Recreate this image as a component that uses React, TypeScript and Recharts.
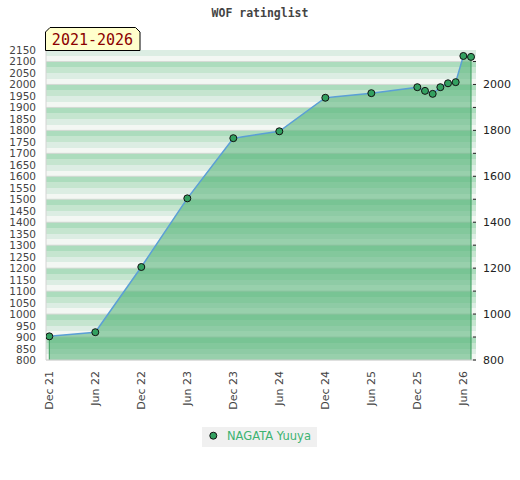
import React from "react";
import {
  ComposedChart,
  Area,
  Line,
  XAxis,
  YAxis,
  CartesianGrid,
  ReferenceLine,
} from "recharts";

// ---- data ----
const playerName = "NAGATA Yuuya";
const chartTitle = "WOF ratinglist";
const periodLabel = "2021-2026";

const dates = [
  "2021-12", "2022-06", "2022-12", "2023-06", "2023-12", "2024-06", "2024-12",
  "2025-06", "2025-12", "2026-01", "2026-02", "2026-03", "2026-04", "2026-05",
  "2026-06", "2026-07",
];
const ratings = [
  903, 921, 1205, 1504, 1766, 1796, 1942, 1962, 1988, 1972, 1959, 1988, 2005,
  2010, 2124, 2120,
];

const xTickMonths = [0, 6, 12, 18, 24, 30, 36, 42, 48, 54];
const xTickLabels = [
  "Dec 21", "Jun 22", "Dec 22", "Jun 23", "Dec 23", "Jun 24", "Dec 24",
  "Jun 25", "Dec 25", "Jun 26",
];
const leftTicks = Array.from({ length: 28 }, (_, i) => 800 + i * 50);
const rightTicks = Array.from({ length: 14 }, (_, i) => 800 + i * 100);
const stripeValues = Array.from({ length: 55 }, (_, i) => 2150 - i * 25);
const hundredLines = Array.from({ length: 14 }, (_, i) => 800 + i * 100);

const Y_DOMAIN: [number, number] = [800, 2150];
const X_DOMAIN: [number, number] = [-0.43, 55.65];

const toMonth = (d: string) => {
  const [y, m] = d.split("-").map(Number);
  return (y - 2021) * 12 + (m - 12);
};

const data = dates.map((d, i) => ({ m: toMonth(d), rating: ratings[i] }));
const first = data[0];
const last = data[data.length - 1];

const FONT = "'DejaVu Sans', sans-serif";

const XTick = (props: any) => {
  const { x, y, payload } = props;
  const idx = xTickMonths.indexOf(payload.value);
  const label = idx >= 0 ? xTickLabels[idx] : "";
  return (
    <text
      x={x}
      y={y}
      dy={4}
      transform={`rotate(-90, ${x}, ${y})`}
      textAnchor="end"
      fontSize={11}
      fontFamily={FONT}
      fill="#444"
    >
      {label}
    </text>
  );
};

const LeftTick = (props: any) => {
  const { x, y, payload } = props;
  return (
    <text
      x={x}
      y={y}
      dy={4}
      textAnchor="end"
      fontSize={10.5}
      fontFamily={FONT}
      fill="#444"
    >
      {payload.value}
    </text>
  );
};

const RightTick = (props: any) => {
  const { x, y, payload } = props;
  const v = payload.value;
  return (
    <g>
      <line x1={x - 3} x2={x} y1={y} y2={y} stroke="#222" strokeWidth={1} />
      {v % 200 === 0 ? (
        <text
          x={x + 7}
          y={y}
          dy={4}
          textAnchor="start"
          fontSize={11}
          fontFamily={FONT}
          fill="#222"
        >
          {v}
        </text>
      ) : null}
    </g>
  );
};

export default function App() {
  return (
    <div style={{ position: "absolute", left: 0, top: 0, width: 520, height: 480 }}>
      <ComposedChart
        width={520}
        height={480}
        data={data}
        margin={{ top: 50, right: 0, bottom: 0, left: 0 }}
      >
        <CartesianGrid
          yAxisId="left"
          horizontalValues={stripeValues}
          vertical={false}
          stroke="none"
          horizontalFill={["#dcede3", "#f3f7f3", "#acdcbd", "#c5e5cf"]}
        />
        <CartesianGrid
          yAxisId="left"
          horizontalValues={hundredLines}
          vertical={false}
          stroke="#d6dad6"
          fill="none"
        />
        <XAxis
          dataKey="m"
          type="number"
          domain={X_DOMAIN}
          ticks={xTickMonths}
          interval={0}
          height={120}
          tickSize={0}
          tickMargin={11}
          tick={<XTick />}
          axisLine={{ stroke: "#d4d4d4" }}
          allowDataOverflow
        />
        <YAxis
          yAxisId="left"
          orientation="left"
          domain={Y_DOMAIN}
          ticks={leftTicks}
          interval={0}
          width={46}
          tickSize={0}
          tickMargin={10}
          tickLine={false}
          axisLine={{ stroke: "#d4d4d4" }}
          tick={<LeftTick />}
          allowDataOverflow
        />
        <YAxis
          yAxisId="right"
          orientation="right"
          domain={Y_DOMAIN}
          ticks={rightTicks}
          interval={0}
          width={44}
          tickSize={0}
          tickMargin={0}
          tickLine={false}
          axisLine={false}
          tick={<RightTick />}
          allowDataOverflow
        />
        <Area
          yAxisId="left"
          dataKey="rating"
          type="linear"
          fill="#50b174"
          fillOpacity={0.56}
          stroke="none"
          baseValue={Y_DOMAIN[0]}
          isAnimationActive={false}
        />
        <ReferenceLine
          yAxisId="left"
          segment={[
            { x: first.m, y: Y_DOMAIN[0] },
            { x: first.m, y: first.rating },
          ]}
          stroke="#3a9c5c"
          strokeWidth={1}
        />
        <ReferenceLine
          yAxisId="left"
          segment={[
            { x: last.m, y: Y_DOMAIN[0] },
            { x: last.m, y: last.rating },
          ]}
          stroke="#3a9c5c"
          strokeWidth={1}
        />
        <Line
          yAxisId="left"
          dataKey="rating"
          type="linear"
          stroke="#5b9fd6"
          strokeWidth={1.5}
          dot={{ r: 3.5, fill: "#33a060", stroke: "#111", strokeWidth: 1 }}
          activeDot={false}
          isAnimationActive={false}
        />
      </ComposedChart>
      <svg
        width={520}
        height={480}
        style={{ position: "absolute", left: 0, top: 0, pointerEvents: "none" }}
      >
        <text
          x={260}
          y={17}
          textAnchor="middle"
          fontSize={11.5}
          fontWeight="bold"
          fontFamily="'DejaVu Sans Mono', monospace"
          fill="#444"
        >
          {chartTitle}
        </text>
        <polygon
          points="45.5,50.5 45.5,32 50,27.5 135.5,27.5 140,32 140,50.5"
          fill="#ffffcc"
          stroke="#000"
          strokeWidth={1}
        />
        <text
          x={92.5}
          y={45}
          textAnchor="middle"
          fontSize={15}
          fontFamily="'DejaVu Sans Mono', monospace"
          fill="#8b0000"
        >
          {periodLabel}
        </text>
        <rect x={202} y={427} width={115} height={20} fill="#f0f0f0" />
        <circle cx={213.3} cy={435.7} r={3.5} fill="#33a060" stroke="#111" strokeWidth={1} />
        <text x={227} y={440} fontSize={11.5} fontFamily={FONT} fill="#3cb371">
          {playerName}
        </text>
      </svg>
    </div>
  );
}
